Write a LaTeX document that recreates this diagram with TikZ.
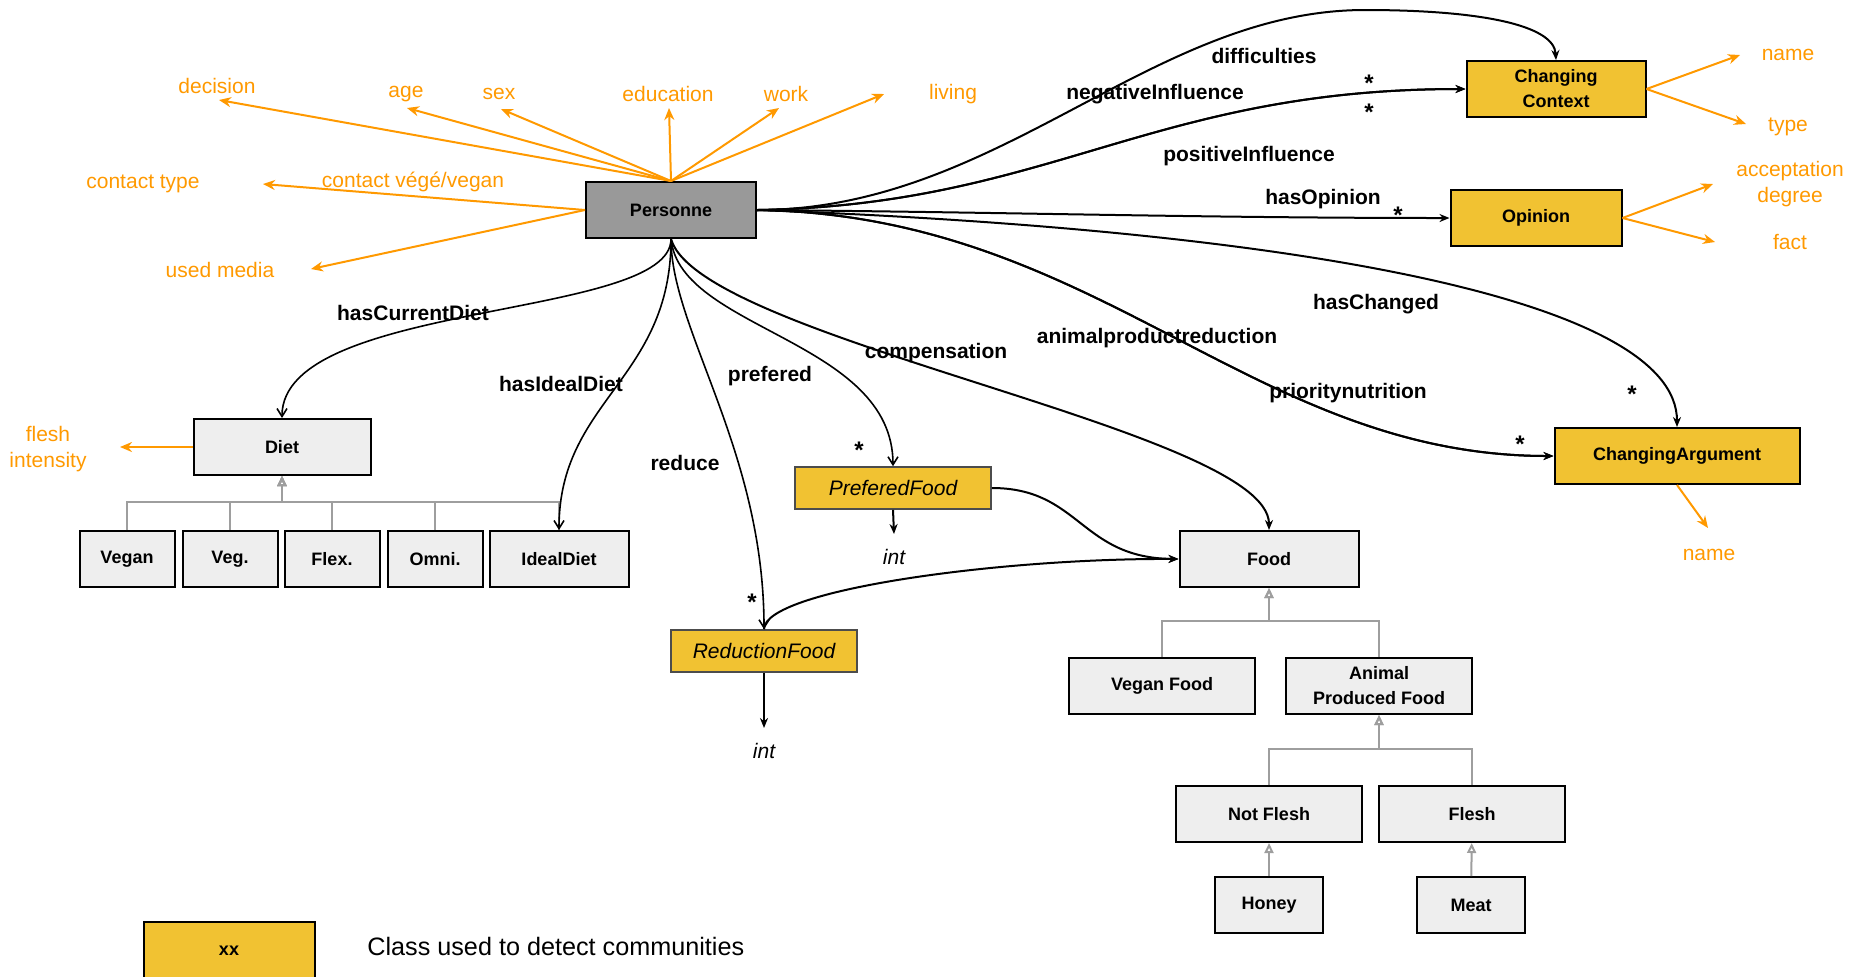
\documentclass[tikz,border=0pt]{standalone}
\usepackage{fontspec}
\setmainfont{Liberation Sans}
\usetikzlibrary{arrows.meta, positioning}
\definecolor{clsyellow}{HTML}{F1C232}
\definecolor{attrorange}{HTML}{FF9900}
\definecolor{clsgray}{HTML}{EEEEEE}
\definecolor{persgray}{HTML}{999999}
\definecolor{inhgray}{HTML}{9E9E9E}

\begin{document}
\begin{tikzpicture}[
  x=0.5pt, y=-0.5pt,
  cls/.style={draw=black, line width=1pt, fill=clsgray, minimum height=28pt,
    inner sep=0pt, align=center, font=\fontsize{9}{12.5}\selectfont\bfseries},
  key/.style={cls, fill=clsyellow},
  sub/.style={draw=black!70, line width=0.8pt, fill=clsyellow, minimum height=21pt,
    inner sep=0pt, font=\fontsize{10.5}{13}\selectfont\itshape},
  lbl/.style={font=\fontsize{10.5}{13}\selectfont\bfseries, inner sep=0pt},
  star/.style={font=\fontsize{12}{12}\selectfont\bfseries, inner sep=0pt},
  attr/.style={text=attrorange, align=center, inner sep=0pt, font=\fontsize{10.5}{13}\selectfont},
  assoc/.style={-{Stealth[length=5pt, width=4pt]}, line width=1pt},
  assocv/.style={-{Straight Barb[length=4pt, width=5pt]}, line width=0.8pt},
  attrarr/.style={-{Stealth[length=6pt, width=5pt]}, line width=1pt, attrorange},
  inh/.style={-{Triangle[open, length=5pt, width=4.5pt]}, line width=1pt, inhgray},
]

\useasboundingbox (0,0) rectangle (1850,976);

% === Classes ===
\node[cls, fill=persgray, minimum width=85pt] (pers) at (671,210) {Personne};
\node[key, minimum width=89.5pt] (ctx) at (1556,89) {Changing\\Context};
\node[key, minimum width=85.5pt] (opin) at (1536,218) {Opinion};
\node[key, minimum width=122.5pt] (carg) at (1677,456) {ChangingArgument};

\node[cls, minimum width=88.5pt] (diet) at (282,447) {Diet};
\node[cls, minimum width=47.5pt] (vegan) at (127,559) {Vegan};
\node[cls, minimum width=47.5pt] (veg) at (230,559) {Veg.};
\node[cls, minimum width=47.5pt] (flex) at (332,559) {Flex.};
\node[cls, minimum width=47.5pt] (omni) at (435,559) {Omni.};
\node[cls, minimum width=69.5pt] (ideal) at (559,559) {IdealDiet};

\node[sub, minimum width=98pt] (pfood) at (893,488) {PreferedFood};
\node[sub, minimum width=93pt] (rfood) at (764,651) {ReductionFood};

\node[cls, minimum width=89.5pt] (food) at (1269,559) {Food};
\node[cls, minimum width=93pt] (vfood) at (1162,686) {Vegan Food};
\node[cls, minimum width=93pt] (apf) at (1379,686) {Animal\\Produced Food};
\node[cls, minimum width=93pt] (notfl) at (1269,814) {Not Flesh};
\node[cls, minimum width=93pt] (flesh) at (1472,814) {Flesh};
\node[cls, minimum width=54pt] (honey) at (1269,905) {Honey};
\node[cls, minimum width=54pt] (meat) at (1471,905) {Meat};

% === Inheritance ===
\foreach \c in {vegan, veg, flex, omni, ideal}
  \draw[inh] (\c.north) -- ++(0,-28) -| (diet.south);
\foreach \c in {vfood, apf}
  \draw[inh] (\c.north) -- ++(0,-36) -| (food.south);
\foreach \c in {notfl, flesh}
  \draw[inh] (\c.north) -- ++(0,-36) -| (apf.south);
\draw[inh] (honey) -- (notfl);
\draw[inh] (meat) -- (flesh);

% === Attributes (orange) ===
\node[attr] (adecision) at (217,86) {decision};
\node[attr] (aage) at (406,94) {age};
\node[attr] (asex) at (499,94) {sex};
\node[attr] (aeducation) at (668,94) {education};
\node[attr] (awork) at (786,94) {work};
\node[attr] (aliving) at (953,94) {living};
\node[attr] (acontact) at (143,184) {contact type};
\node[attr] (avege) at (413,182) {contact végé/vegan};
\node[attr] (amedia) at (220,270) {used media};
\node[attr] (aflesh) at (48,449) {flesh\\intensity};
\node[attr] (acname) at (1788,55) {name};
\node[attr] (actype) at (1788,127) {type};
\node[attr] (aaccept) at (1790,184) {acceptation\\degree};
\node[attr] (afact) at (1790,242) {fact};
\node[attr] (aargname) at (1709,555) {name};

\coordinate (tdecision) at (219,100);
\coordinate (tage) at (407,108);
\coordinate (tsex) at (501,109);
\coordinate (teducation) at (669,108);
\coordinate (twork) at (779,108);
\coordinate (tliving) at (884,94);
\coordinate (tcontact) at (263,184);
\coordinate (tmedia) at (311,269);
\coordinate (tflesh) at (120,447);
\coordinate (tcname) at (1740,55);
\coordinate (tctype) at (1746,124);
\coordinate (taccept) at (1713,184);
\coordinate (tfact) at (1715,242);
\coordinate (targname) at (1708,528);

\foreach \t in {decision, age, sex, education, work, living}
  \draw[attrarr] (pers.north) -- (t\t);
\draw[attrarr] (pers.west) -- (tcontact);
\draw[attrarr] (pers.west) -- (tmedia);
\draw[attrarr] (diet.west) -- (tflesh);
\draw[attrarr] (ctx.east) -- (tcname);
\draw[attrarr] (ctx.east) -- (tctype);
\draw[attrarr] (opin.east) -- (taccept);
\draw[attrarr] (opin.east) -- (tfact);
\draw[attrarr] (carg.south) -- (targname);

% === Associations ===
\coordinate (difftop) at (1365,10);
\draw[assoc] (pers.east) .. controls (1000,210) and (1150,10) .. (difftop)
  .. controls (1480,10) and (1554,25) .. (ctx.north);
\draw[assoc] (pers.east) .. controls (1050,205) and (1150,89) .. (ctx.west);
\draw[assoc] (pers.east) .. controls (1050,205) and (1150,89) .. (ctx.west);
\draw[assoc] (pers.east) .. controls (1000,212) and (1200,218) .. (opin.west);
\draw[assoc] (pers.east) .. controls (1300,230) and (1677,300) .. (carg.north);
\draw[assoc] (pers.east) .. controls (1100,215) and (1250,456) .. (carg.west);
\draw[assoc] (pers.east) .. controls (1100,215) and (1250,456) .. (carg.west);
\draw[assoc] (pers.south) .. controls (700,340) and (1269,430) .. (food.north);
\draw[assocv] (pers.south) .. controls (680,330) and (893,340) .. (pfood.north);
\draw[assocv] (pers.south) .. controls (671,330) and (764,450) .. (rfood.north);
\draw[assocv] (pers.south) .. controls (671,320) and (282,300) .. (diet.north);
\draw[assocv] (pers.south) .. controls (671,380) and (559,400) .. (ideal.north);
\draw[assoc] (pfood.east) .. controls (1080,488) and (1080,558) .. (food.west);
\draw[assoc] (rfood.north) .. controls (764,590) and (1000,558) .. (food.west);

\node[font=\fontsize{10.5}{13}\selectfont\itshape] (pint) at (894,557) {int};
\node[font=\fontsize{10.5}{13}\selectfont\itshape] (rint) at (764,751) {int};
\coordinate (tpint) at (894,534);
\coordinate (trint) at (764,728);
\draw[assoc] (pfood.south) -- (tpint);
\draw[assoc] (rfood.south) -- (trint);

% === Association labels ===
\node[lbl] (ldiff) at (1264,56) {difficulties};
\node[lbl] (lneg) at (1155,94) {negativeInfluence};
\node[lbl] (lpos) at (1249,156) {positiveInfluence};
\node[lbl] (lopin) at (1323,199) {hasOpinion};
\node[lbl] (lchg) at (1376,304) {hasChanged};
\node[lbl] (lapr) at (1157,338) {animalproductreduction};
\node[lbl] (lprio) at (1348,393) {prioritynutrition};
\node[lbl] (lcomp) at (936,353) {compensation};
\node[lbl] (lpref) at (770,376) {prefered};
\node[lbl] (lcur) at (413,313) {hasCurrentDiet};
\node[lbl] (lideal) at (561,384) {hasIdealDiet};
\node[lbl] (lred) at (685,463) {reduce};

% === Multiplicities ===
\node[star] (s1) at (1369,83) {*};
\node[star] (s2) at (1369,112) {*};
\node[star] (s3) at (1398,215) {*};
\node[star] (s4) at (1632,394) {*};
\node[star] (s5) at (1520,444) {*};
\node[star] (s6) at (859,450) {*};
\node[star] (s7) at (752,602) {*};

% === Legend ===
\node[key, minimum width=85.5pt, minimum height=29pt] (legkey) at (229,951) {xx};
\node[anchor=west, inner sep=0pt, font=\fontsize{12.6}{15}\selectfont] (legtxt) at (367,946)
  {Class used to detect communities};

\end{tikzpicture}
\end{document}
